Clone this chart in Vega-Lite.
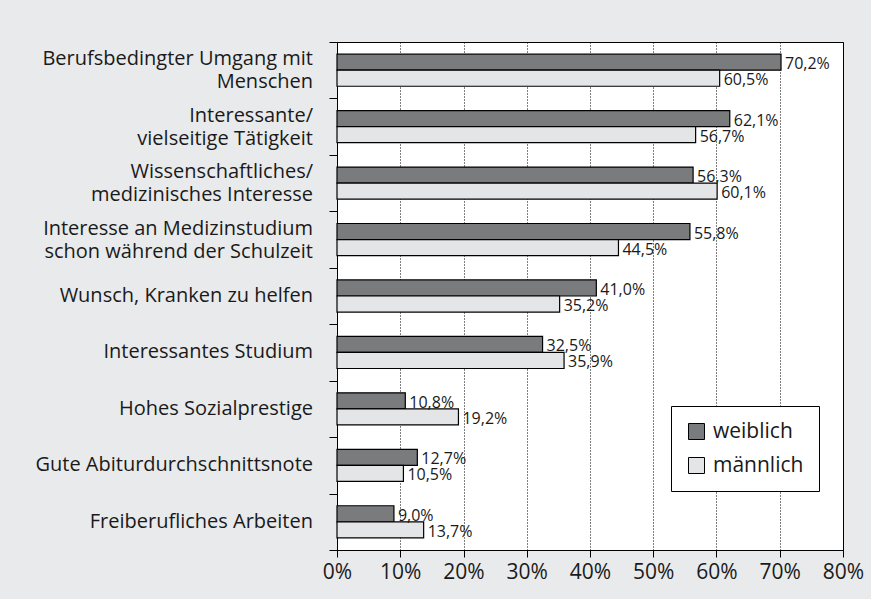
{
  "$schema": "https://vega.github.io/schema/vega-lite/v6.json",
  "width": 506,
  "height": 508,
  "autosize": {"type": "none"},
  "padding": {"left": 337, "top": 42, "right": 28, "bottom": 49},
  "background": "#e9eaec",
  "data": {
    "values": [
      {"cat": "Berufsbedingter Umgang mit|Menschen", "lines": 2, "sex": "weiblich", "value": 0.702},
      {"cat": "Berufsbedingter Umgang mit|Menschen", "lines": 2, "sex": "männlich", "value": 0.605},
      {"cat": "Interessante/|vielseitige Tätigkeit", "lines": 2, "sex": "weiblich", "value": 0.621},
      {"cat": "Interessante/|vielseitige Tätigkeit", "lines": 2, "sex": "männlich", "value": 0.567},
      {"cat": "Wissenschaftliches/|medizinisches Interesse", "lines": 2, "sex": "weiblich", "value": 0.563},
      {"cat": "Wissenschaftliches/|medizinisches Interesse", "lines": 2, "sex": "männlich", "value": 0.601},
      {"cat": "Interesse an Medizinstudium|schon während der Schulzeit", "lines": 2, "sex": "weiblich", "value": 0.558},
      {"cat": "Interesse an Medizinstudium|schon während der Schulzeit", "lines": 2, "sex": "männlich", "value": 0.445},
      {"cat": "Wunsch, Kranken zu helfen", "lines": 1, "sex": "weiblich", "value": 0.41},
      {"cat": "Wunsch, Kranken zu helfen", "lines": 1, "sex": "männlich", "value": 0.352},
      {"cat": "Interessantes Studium", "lines": 1, "sex": "weiblich", "value": 0.325},
      {"cat": "Interessantes Studium", "lines": 1, "sex": "männlich", "value": 0.359},
      {"cat": "Hohes Sozialprestige", "lines": 1, "sex": "weiblich", "value": 0.108},
      {"cat": "Hohes Sozialprestige", "lines": 1, "sex": "männlich", "value": 0.192},
      {"cat": "Gute Abiturdurchschnittsnote", "lines": 1, "sex": "weiblich", "value": 0.127},
      {"cat": "Gute Abiturdurchschnittsnote", "lines": 1, "sex": "männlich", "value": 0.105},
      {"cat": "Freiberufliches Arbeiten", "lines": 1, "sex": "weiblich", "value": 0.09},
      {"cat": "Freiberufliches Arbeiten", "lines": 1, "sex": "männlich", "value": 0.137}
    ]
  },
  "encoding": {
    "y": {
      "field": "cat",
      "type": "nominal",
      "sort": null,
      "scale": {"paddingInner": 0, "paddingOuter": 0},
      "axis": {
        "title": null,
        "tickBand": "extent",
        "labels": false,
        "tickSize": 8,
        "domainColor": "black",
        "tickColor": "black",
        "grid": false
      }
    }
  },
  "layer": [
    {
      "mark": {"type": "bar", "stroke": "black", "strokeWidth": 1.2},
      "encoding": {
        "x": {
          "field": "value",
          "type": "quantitative",
          "scale": {"domain": [0, 0.8], "nice": false},
          "axis": {
            "title": null,
            "format": ".0%",
            "values": [0, 0.1, 0.2, 0.3, 0.4, 0.5, 0.6, 0.7, 0.8],
            "labelFlush": false,
            "labelFontSize": 21,
            "labelPadding": 4,
            "tickSize": 7,
            "domainColor": "black",
            "tickColor": "black",
            "labelColor": "#1a1a1a",
            "grid": true,
            "gridColor": "black",
            "gridDash": [1, 2],
            "gridWidth": 1,
            "gridOpacity": 1
          }
        },
        "yOffset": {
          "field": "sex",
          "type": "nominal",
          "sort": ["weiblich", "männlich"],
          "scale": {"paddingInner": 0, "paddingOuter": 0.76}
        },
        "color": {
          "field": "sex",
          "type": "nominal",
          "scale": {"domain": ["weiblich", "männlich"], "range": ["#7a7b7d", "#e4e5e7"]},
          "legend": {
            "title": null,
            "orient": "none",
            "legendX": 334,
            "legendY": 364,
            "fillColor": "white",
            "strokeColor": "black",
            "padding": 15,
            "symbolType": "square",
            "symbolSize": 256,
            "symbolStrokeColor": "black",
            "symbolStrokeWidth": 1,
            "symbolOpacity": 1,
            "labelFontSize": 21,
            "labelColor": "#1a1a1a",
            "labelOffset": 6,
            "rowPadding": 12
          }
        }
      }
    },
    {
      "mark": {"type": "text", "align": "left", "baseline": "middle", "dx": 4, "dy": 2, "fontSize": 16, "color": "#1a1a1a"},
      "encoding": {
        "x": {"field": "value", "type": "quantitative"},
        "yOffset": {"field": "sex", "type": "nominal", "sort": ["weiblich", "männlich"]},
        "text": {"field": "value", "type": "quantitative", "format": ".1%"}
      }
    },
    {
      "transform": [{"filter": "datum.sex == 'weiblich' && datum.lines == 2"}],
      "mark": {"type": "text", "align": "right", "baseline": "line-bottom", "lineBreak": "|", "lineHeight": 23, "dx": -24, "dy": 1, "fontSize": 20, "color": "#1a1a1a"},
      "encoding": {
        "x": {"datum": 0, "type": "quantitative"},
        "text": {"field": "cat", "type": "nominal"}
      }
    },
    {
      "transform": [{"filter": "datum.sex == 'weiblich' && datum.lines == 1"}],
      "mark": {"type": "text", "align": "right", "baseline": "middle", "dx": -24, "fontSize": 20, "color": "#1a1a1a"},
      "encoding": {
        "x": {"datum": 0, "type": "quantitative"},
        "text": {"field": "cat", "type": "nominal"}
      }
    }
  ],
  "config": {
    "font": "Open Sans",
    "locale": {"number": {"decimal": ",", "thousands": ".", "grouping": [3], "currency": ["", " €"]}},
    "view": {"fill": "white", "stroke": "black", "strokeWidth": 1}
  }
}
